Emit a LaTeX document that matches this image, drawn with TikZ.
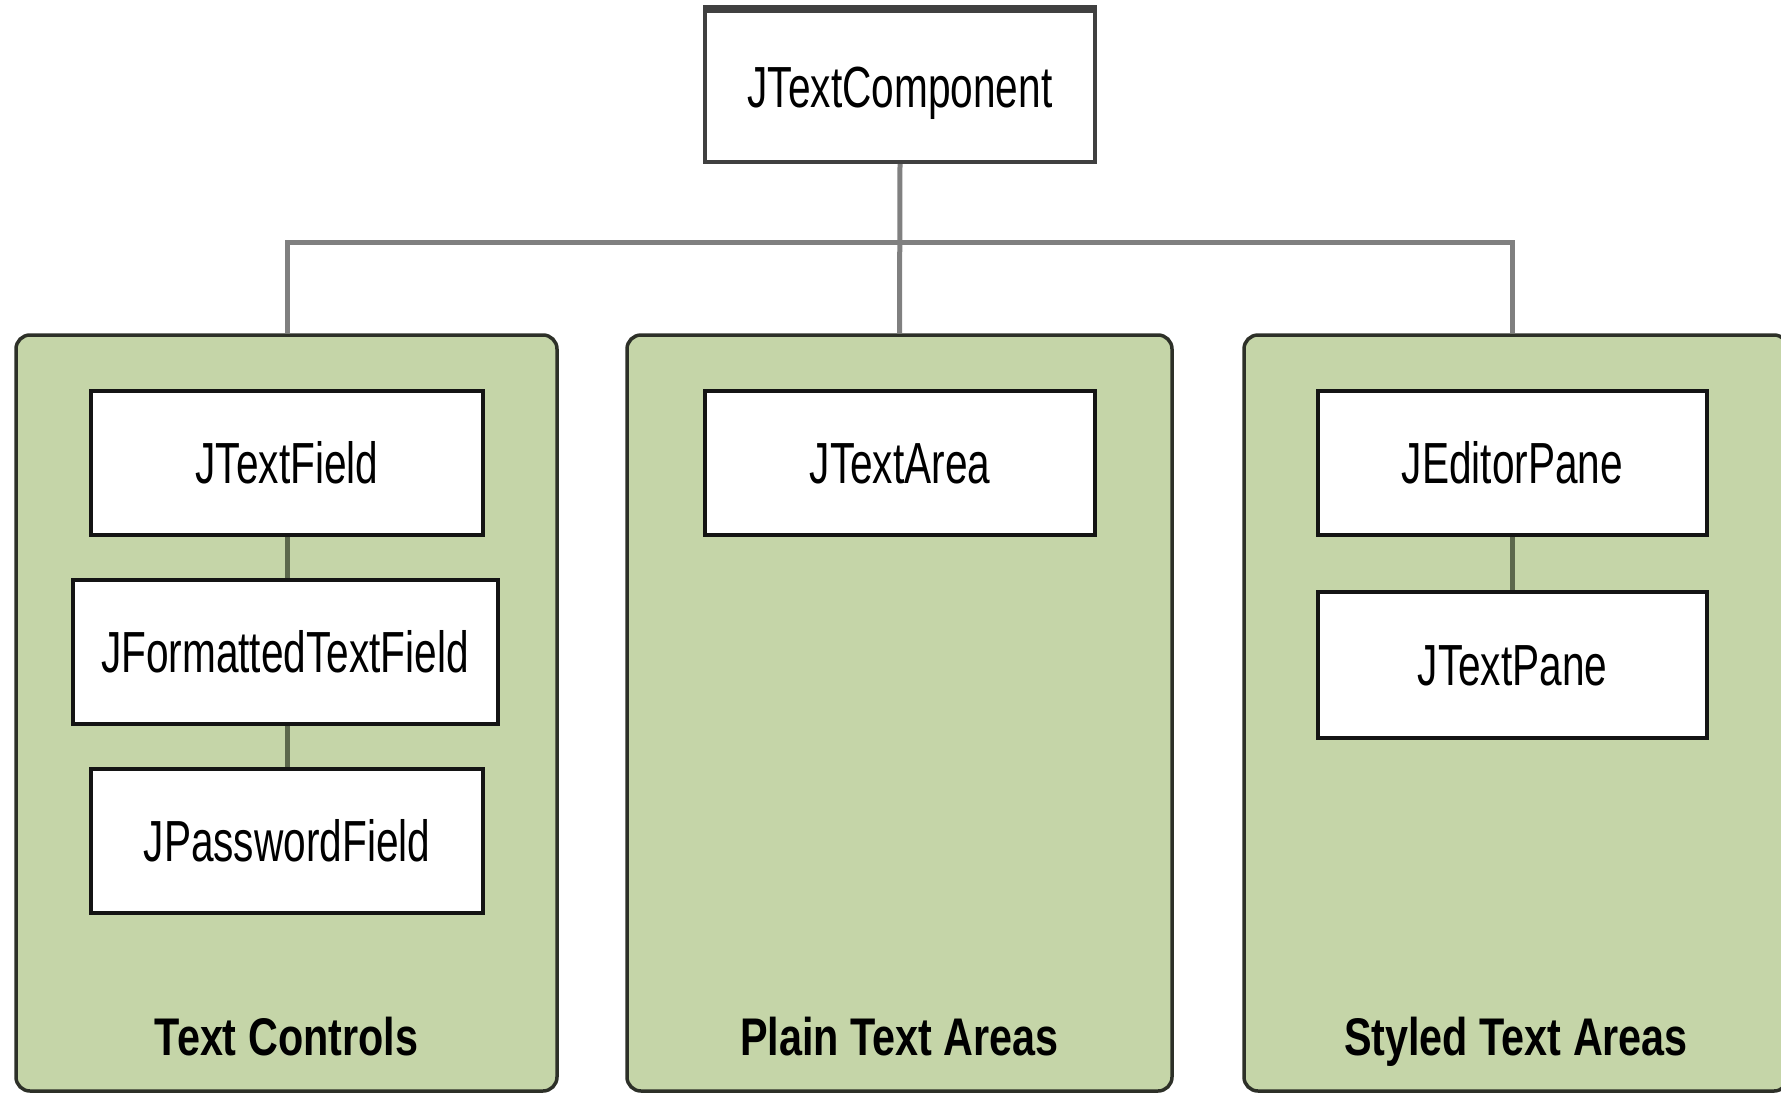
\documentclass[tikz,border=0pt]{standalone}
\usepackage{fontspec}
\newfontfamily\boxfont[FakeStretch=0.7]{Liberation Sans}
\newfontfamily\labfont[FakeStretch=0.78]{Liberation Sans Bold}
\definecolor{grpfill}{RGB}{197,213,168}
\definecolor{grpline}{RGB}{45,48,40}
\definecolor{busline}{RGB}{128,128,128}
\definecolor{inline}{RGB}{92,104,76}
\tikzset{
  classbox/.style={draw=black!92, line width=4pt, fill=white, inner sep=0pt,
    font=\boxfont\fontsize{58}{60}\selectfont, text height=41pt, text depth=0pt,
    minimum height=144pt},
  group/.style={draw=grpline, line width=3.5pt, fill=grpfill, rounded corners=14pt,
    inner sep=0pt, minimum height=756pt},
  grplabel/.style={anchor=base, inner sep=0pt, font=\labfont\fontsize{53}{55}\selectfont},
  conn/.style={draw=busline, line width=5pt},
  innerconn/.style={draw=inline, line width=5pt}
}
\begin{document}
\begin{tikzpicture}[x=1pt,y=-1pt]
\useasboundingbox (0,0) rectangle (1781,1093);
\fill[white] (0,0) rectangle (1781,1093);
% groups
\node[group, minimum width=541pt] (gl) at (286.5,713) {};
\node[group, minimum width=545pt] (gm) at (899.5,713) {};
\node[group, minimum width=544pt] (gr) at (1516,713) {};
% top class
\node[classbox, draw=black!75, minimum width=390pt, minimum height=151pt] (tc) at (900,86.5) {JTextComponent};
\draw[black!75, line width=8pt] (tc.north west) -- (tc.north east);
% left group classes
\node[classbox, minimum width=392pt] (tf) at (287,463) {JTextField};
\node[classbox, minimum width=425pt] (ftf) at (285,652) {JFormattedTextField};
\node[classbox, minimum width=392pt] (pf) at (287,841) {JPasswordField};
% middle
\node[classbox, minimum width=390pt] (ta) at (900,463) {JTextArea};
% right
\node[classbox, minimum width=389pt] (ep) at (1512.5,463) {JEditorPane};
\node[classbox, minimum width=389pt, minimum height=146pt] (tp) at (1512.5,665) {JTextPane};
% bus connectors
\coordinate (bus) at (900,242);
\draw[conn] (tc.south) -- (gm.north);
\draw[conn] (gl.north -| tf.north) |- (bus) -| (gr.north -| ep.north);
% inner connectors
\draw[innerconn] (tf.south) -- (ftf.north -| tf.south);
\draw[innerconn] (ftf.south -| pf.north) -- (pf.north);
\draw[innerconn] (ep.south) -- (tp.north);
% group labels
\node[grplabel] (ll) at (286.5,1055) {Text Controls};
\node[grplabel] (lm) at (899.5,1055) {Plain Text Areas};
\node[grplabel] (lr) at (1516,1055) {Styled Text Areas};
\end{tikzpicture}
\end{document}
